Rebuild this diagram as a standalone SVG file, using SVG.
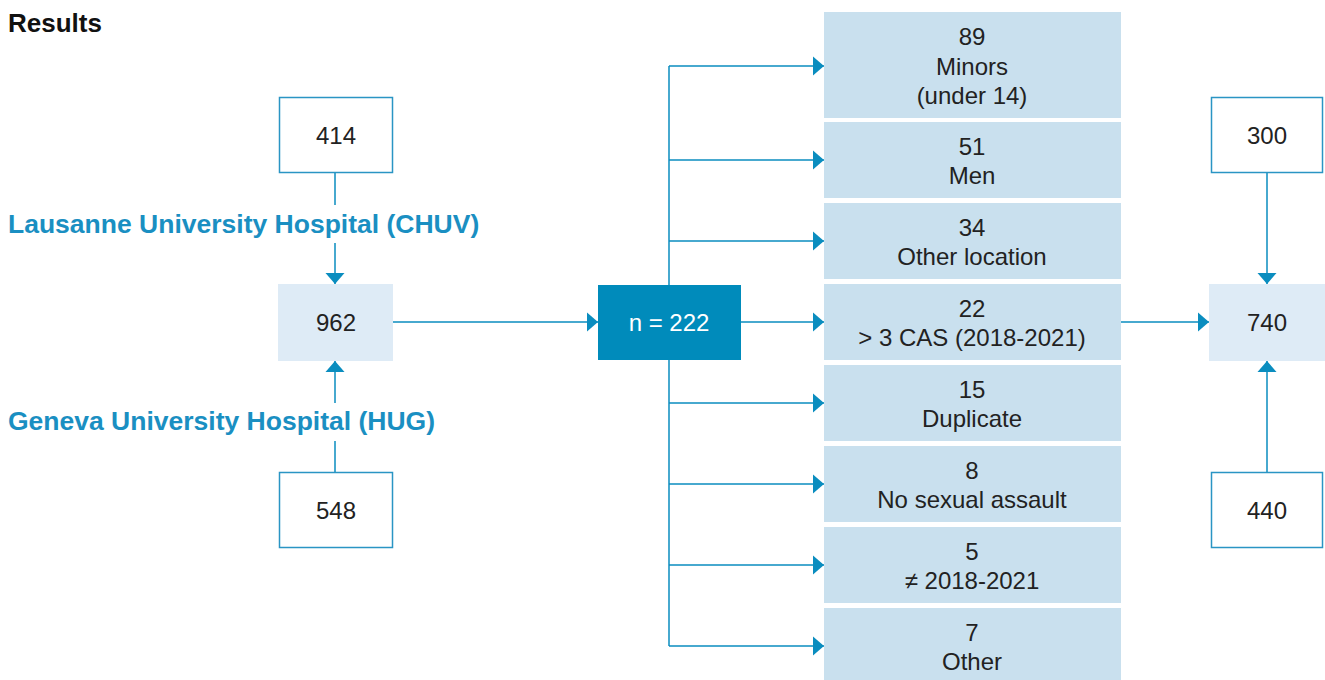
<svg xmlns="http://www.w3.org/2000/svg" width="1325" height="680" viewBox="0 0 1325 680">
<defs>
<marker id="ah" markerUnits="userSpaceOnUse" markerWidth="12" markerHeight="20" refX="11" refY="10" orient="auto" viewBox="0 0 12 20">
<path d="M0,0.5 L11,10 L0,19.5 Z" fill="#0a8dbf"/>
</marker>
<style>
.t{font-family:"Liberation Sans",Arial,sans-serif;font-size:24px;fill:#222222;text-anchor:middle}
.lbl{font-family:"Liberation Sans",Arial,sans-serif;font-size:26.5px;font-weight:bold;fill:#1a8fc2}
.src{fill:#ffffff;stroke:#2a95c4;stroke-width:1.5}
.tot{fill:#deebf6}
.ex{fill:#c9e0ee}
.c{fill:none;stroke:#0a8dbf;stroke-width:1.5}
.ca{fill:none;stroke:#0a8dbf;stroke-width:1.5;marker-end:url(#ah)}
</style>
</defs>
<rect width="1325" height="680" fill="#ffffff"/>
<text x="8" y="32" style="font-family:'Liberation Sans',Arial,sans-serif;font-size:26px;font-weight:bold;fill:#111">Results</text>

<g id="connectors">
<line class="c" x1="335" y1="173" x2="335" y2="205"/>
<line class="ca" x1="335" y1="243" x2="335" y2="284"/>
<line class="c" x1="335" y1="472" x2="335" y2="441"/>
<line class="ca" x1="335" y1="403" x2="335" y2="361"/>
<line class="ca" x1="393" y1="322" x2="598" y2="322"/>
<line class="ca" x1="741" y1="322" x2="824" y2="322"/>
<line class="c" x1="669" y1="66" x2="669" y2="285"/>
<line class="c" x1="669" y1="360" x2="669" y2="646"/>
<polyline class="ca" points="669,66 824,66"/>
<polyline class="ca" points="669,160 824,160"/>
<polyline class="ca" points="669,241 824,241"/>
<polyline class="ca" points="669,403 824,403"/>
<polyline class="ca" points="669,484 824,484"/>
<polyline class="ca" points="669,565 824,565"/>
<polyline class="ca" points="669,646 824,646"/>
<line class="ca" x1="1121" y1="322" x2="1209" y2="322"/>
<line class="ca" x1="1267" y1="172" x2="1267" y2="284"/>
<line class="ca" x1="1267" y1="472" x2="1267" y2="361"/>
</g>

<g id="label-chuv"><text class="lbl" x="8" y="233">Lausanne University Hospital (CHUV)</text></g>
<g id="label-hug"><text class="lbl" x="8" y="430">Geneva University Hospital (HUG)</text></g>

<g id="n414"><rect class="src" x="279.5" y="97.5" width="113" height="75"/><text class="t" x="336" y="144">414</text></g>
<g id="n962"><rect class="tot" x="278" y="284" width="115" height="77"/><text class="t" x="336" y="331">962</text></g>
<g id="n548"><rect class="src" x="279.5" y="472.5" width="113" height="75"/><text class="t" x="336" y="519">548</text></g>

<g id="n222"><rect x="598" y="285" width="143" height="75" fill="#008bbb"/><text class="t" x="669" y="331" style="fill:#ffffff">n = 222</text></g>

<g id="ex1"><rect class="ex" x="824" y="12" width="297" height="106"/><text class="t" x="972" y="45">89</text><text class="t" x="972" y="75">Minors</text><text class="t" x="972" y="104">(under 14)</text></g>
<g id="ex2"><rect class="ex" x="824" y="122" width="297" height="76"/><text class="t" x="972" y="155">51</text><text class="t" x="972" y="184">Men</text></g>
<g id="ex3"><rect class="ex" x="824" y="203" width="297" height="76"/><text class="t" x="972" y="236">34</text><text class="t" x="972" y="265">Other location</text></g>
<g id="ex4"><rect class="ex" x="824" y="284" width="297" height="76"/><text class="t" x="972" y="317">22</text><text class="t" x="972" y="346">&gt; 3 CAS (2018-2021)</text></g>
<g id="ex5"><rect class="ex" x="824" y="365" width="297" height="76"/><text class="t" x="972" y="398">15</text><text class="t" x="972" y="427">Duplicate</text></g>
<g id="ex6"><rect class="ex" x="824" y="446" width="297" height="76"/><text class="t" x="972" y="479">8</text><text class="t" x="972" y="508">No sexual assault</text></g>
<g id="ex7"><rect class="ex" x="824" y="527" width="297" height="76"/><text class="t" x="972" y="560">5</text><text class="t" x="972" y="589">≠ 2018-2021</text></g>
<g id="ex8"><rect class="ex" x="824" y="608" width="297" height="76"/><text class="t" x="972" y="641">7</text><text class="t" x="972" y="670">Other</text></g>

<g id="n300"><rect class="src" x="1211.5" y="97.5" width="111" height="75"/><text class="t" x="1267" y="144">300</text></g>
<g id="n740"><rect class="tot" x="1209" y="284" width="116" height="77"/><text class="t" x="1267" y="331">740</text></g>
<g id="n440"><rect class="src" x="1211.5" y="472.5" width="111" height="75"/><text class="t" x="1267" y="519">440</text></g>
</svg>
